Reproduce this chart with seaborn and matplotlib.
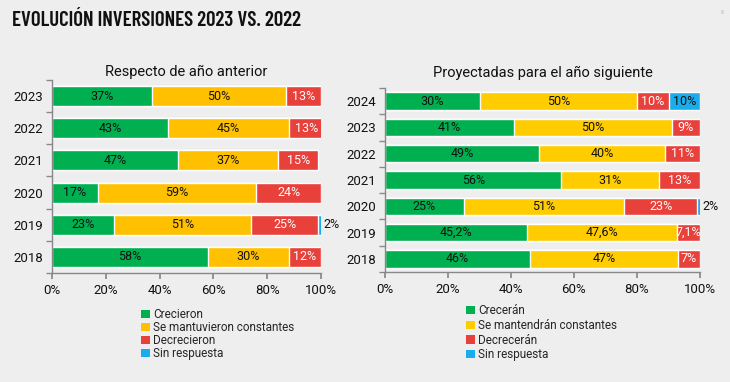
import matplotlib.pyplot as plt
import matplotlib.ticker as mticker
from matplotlib.patches import Patch
import pandas as pd
import seaborn as sns

# Datos
years_left = ["2023", "2022", "2021", "2020", "2019", "2018"]
crecieron = [37, 43, 47, 17, 23, 58]
mantuvieron = [50, 45, 37, 59, 51, 30]
decrecieron = [13, 13, 15, 24, 25, 12]
sin_resp_left = [0, 0, 0, 0, 2, 0]
series_left = ["Crecieron", "Se mantuvieron constantes", "Decrecieron", "Sin respuesta"]

years_right = ["2024", "2023", "2022", "2021", "2020", "2019", "2018"]
creceran = [30, 41, 49, 56, 25, 45.2, 46]
mantendran = [50, 50, 40, 31, 51, 47.6, 47]
decreceran = [10, 9, 11, 13, 23, 7.1, 7]
sin_resp_right = [10, 0, 0, 0, 2, 0, 0]
series_right = ["Crecerán", "Se mantendrán constantes", "Decrecerán", "Sin respuesta"]

BG = "#EDEEED"
colors_left = ["#00B050", "#FFC000", "#E8403A", "#1AADEB"]
colors_right = ["#00B050", "#FFCC00", "#E8403A", "#1AADEB"]
text_colors = ["#111111", "#111111", "white", "#111111"]

sns.set_theme(style="white")
plt.rcParams["font.family"] = ["Roboto", "DejaVu Sans"]


def fmt(v):
    s = f"{v:g}".replace(".", ",")
    return s + "%"


def stacked(ax, years, cols, names, colors, bar_h):
    df = pd.DataFrame(dict(zip(names, cols)), index=years)
    cum = df.cumsum(axis=1)
    # dibuja de la suma total hacia atrás para apilar con seaborn
    for i in range(len(names) - 1, -1, -1):
        d = pd.DataFrame({"year": years, "val": cum.iloc[:, i].values})
        sns.barplot(data=d, y="year", x="val", color=colors[i], orient="h",
                    width=bar_h, ax=ax, saturation=1, order=years)
    for r, y in enumerate(years):
        left = 0
        for i, n in enumerate(names):
            v = df.loc[y, n]
            if v > 0:
                if v < 4:
                    ax.text(min(left + v, 100) + 0.8, r, fmt(v), va="center",
                            ha="left", fontsize=9, color="#111111", clip_on=False)
                else:
                    ax.text(left + v / 2, r, fmt(v), va="center", ha="center",
                            fontsize=9, color=text_colors[i])
            left += v
    ax.set_xlim(0, 100)
    ax.set_ylim(len(years) - 0.5, -0.5)
    ax.set_xlabel("")
    ax.set_ylabel("")
    ax.set_facecolor(BG)
    ax.xaxis.set_major_locator(mticker.MultipleLocator(20))
    ax.xaxis.set_major_formatter(mticker.FuncFormatter(lambda x, p: f"{x:.0f}%"))
    ax.yaxis.set_minor_locator(mticker.FixedLocator([r - 0.5 for r in range(len(years) + 1)]))
    ax.tick_params(axis="y", which="major", length=0, pad=6.5, labelsize=9.5, labelcolor="#111111")
    ax.tick_params(axis="y", which="minor", length=4, color="#888888", left=True, direction="out")
    ax.tick_params(axis="x", length=4, color="#888888", bottom=True, labelsize=9.5,
                   labelcolor="#111111", pad=4)
    for s in ["top", "right"]:
        ax.spines[s].set_visible(False)
    for s in ["left", "bottom"]:
        ax.spines[s].set_color("#888888")
        ax.spines[s].set_linewidth(1)


fig = plt.figure(figsize=(7.3, 3.82), dpi=100, facecolor=BG)

ax1 = fig.add_axes([52 / 730, 1 - 273 / 382, 269 / 730, 193 / 382])
stacked(ax1, years_left, [crecieron, mantuvieron, decrecieron, sin_resp_left],
        series_left, colors_left, 0.62)
ax1.set_title("Respecto de año anterior", fontsize=10.5, color="#111111", pad=3)

ax2 = fig.add_axes([385 / 730, 1 - 272 / 382, 315 / 730, 184 / 382])
stacked(ax2, years_right, [creceran, mantendran, decreceran, sin_resp_right],
        series_right, colors_right, 0.66)
ax2.set_title("Proyectadas para el año siguiente", fontsize=10.5, color="#111111", pad=8)

for names, colors, x0, y0, sp in [(series_left, colors_left, 141 / 730, 308 / 382, 0.0),
                                  (series_right, colors_right, 466 / 730, 304 / 382, 0.15)]:
    handles = [Patch(facecolor=c, edgecolor="none") for c in colors]
    fig.legend(handles, names, loc="upper left", bbox_to_anchor=(x0, 1 - y0),
               frameon=False, fontsize=8.5, handlelength=0.75, handleheight=0.7,
               handletextpad=0.3, labelspacing=sp, borderaxespad=0, borderpad=0)

fig.text(12 / 730, 1 - 20 / 382, "EVOLUCIÓN INVERSIONES 2023 VS. 2022", fontsize=15,
         fontweight=600, va="center", ha="left", color="#111111",
         family=["Barlow Condensed", "Roboto Condensed", "DejaVu Sans"])
fig.text(722 / 730, 1 - 12 / 382, "8", fontsize=4, color="#bbbbbb", ha="center", va="center")

fig.savefig("out.png", dpi=100, facecolor=BG)
